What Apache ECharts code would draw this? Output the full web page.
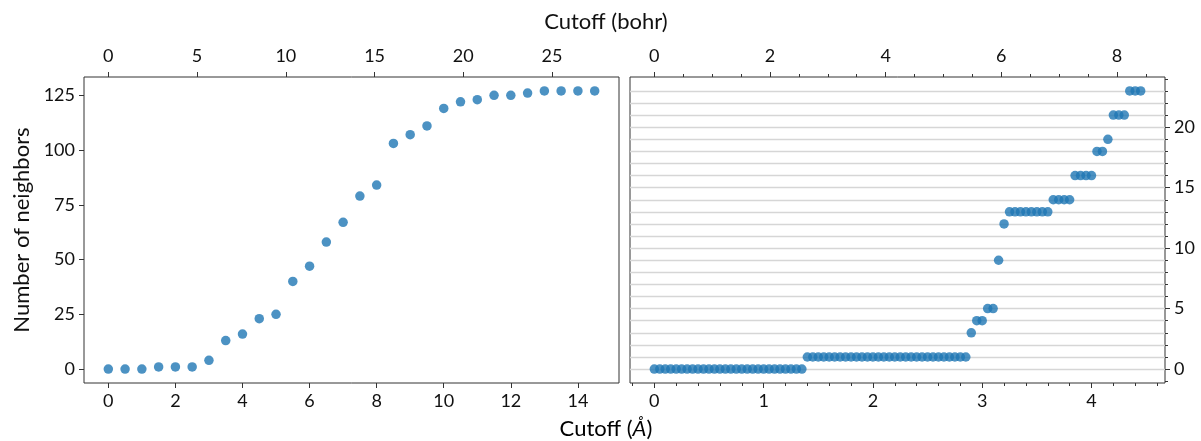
<!DOCTYPE html>
<html>
<head>
<meta charset="utf-8">
<script src="https://cdn.jsdelivr.net/npm/echarts@6/dist/echarts.min.js"></script>
<style>
html,body{margin:0;padding:0;background:#fff;}
#c{width:1201px;height:441px;}
</style>
</head>
<body>
<div id="c"></div>
<script>
// ---- data ----
const leftX = [0,0.5,1,1.5,2,2.5,3,3.5,4,4.5,5,5.5,6,6.5,7,7.5,8,8.5,9,9.5,10,10.5,11,11.5,12,12.5,13,13.5,14,14.5];
const leftY = [0,0,0,1,1,1,4,13,16,23,25,40,47,58,67,79,84,103,107,111,119,122,123,125,125,126,127,127,127,127];

const rightX = [0,0.05,0.1,0.15,0.2,0.25,0.3,0.35,0.4,0.45,0.5,0.55,0.6,0.65,0.7,0.75,0.8,0.85,0.9,0.95,
  1.0,1.05,1.1,1.15,1.2,1.25,1.3,1.35,1.4,1.45,1.5,1.55,1.6,1.65,1.7,1.75,1.8,1.85,1.9,1.95,
  2.0,2.05,2.1,2.15,2.2,2.25,2.3,2.35,2.4,2.45,2.5,2.55,2.6,2.65,2.7,2.75,2.8,2.85,2.9,2.95,
  3.0,3.05,3.1,3.15,3.2,3.25,3.3,3.35,3.4,3.45,3.5,3.55,3.6,3.65,3.7,3.75,3.8,3.85,3.9,3.95,
  4.0,4.05,4.1,4.15,4.2,4.25,4.3,4.35,4.4,4.45];
const rightY = [0,0,0,0,0,0,0,0,0,0,0,0,0,0,0,0,0,0,0,0,
  0,0,0,0,0,0,0,0,1,1,1,1,1,1,1,1,1,1,1,1,
  1,1,1,1,1,1,1,1,1,1,1,1,1,1,1,1,1,1,3,4,
  4,5,5,9,12,13,13,13,13,13,13,13,13,14,14,14,14,16,16,16,
  16,18,18,19,21,21,21,23,23,23];

// ---- tick labels ----
const leftXTicks = [0,2,4,6,8,10,12,14];
const leftBohrTicks = [0,5,10,15,20,25];
const leftYTicks = [0,25,50,75,100,125];
const rightXTicks = [0,1,2,3,4];
const rightXMinor = [-0.2,0.2,0.4,0.6,0.8,1.2,1.4,1.6,1.8,2.2,2.4,2.6,2.8,3.2,3.4,3.6,3.8,4.2,4.4,4.6];
const rightBohrTicks = [0,2,4,6,8];
const rightBohrMinor = [0.5,1,1.5,2.5,3,3.5,4.5,5,5.5,6.5,7,7.5,8.5];
const rightYTicks = [0,5,10,15,20];
const rightYMinor = [-1,1,2,3,4,6,7,8,9,11,12,13,14,16,17,18,19,21,22,23,24];
const rightYGrid = [0,1,2,3,4,5,6,7,8,9,10,11,12,13,14,15,16,17,18,19,20,21,22,23];

const BOHR = 1.8897259886; // bohr per angstrom

// axis ranges (matplotlib 5% margins)
const LX = [-0.725, 15.225], LY = [-6.35, 133.35];
const RX = [-0.2225, 4.6725], RY = [-1.15, 24.15];

const FONT = 'Lato';
const FS = 18;
const TFS = 22;
const TXT = '#111';
const SPINE = '#333';

function ax(grid, range, pos, ticks, opts) {
  opts = opts || {};
  return {
    type: 'value', gridIndex: grid, position: pos, min: range[0], max: range[1],
    axisLine: {show: false, onZero: false},
    axisTick: {show: true, length: opts.len || 5, customValues: ticks, lineStyle: {color: SPINE, width: 1}},
    axisLabel: {show: !opts.noLabel, customValues: ticks, margin: pos === 'top' ? 12 : 9, fontFamily: FONT, fontSize: FS, color: TXT},
    splitLine: {show: false}
  };
}

const series = [
  {type: 'scatter', xAxisIndex: 0, yAxisIndex: 0, data: leftX.map((x,i)=>[x,leftY[i]]),
   symbolSize: 9.5, itemStyle: {color: '#1f77b4', opacity: 0.8}, z: 5},
  {type: 'scatter', xAxisIndex: 2, yAxisIndex: 1, data: rightX.map((x,i)=>[x,rightY[i]]),
   symbolSize: 9.5, itemStyle: {color: '#1f77b4', opacity: 0.8}, z: 5}
];

const option = {
  animation: false,
  backgroundColor: '#fff',
  grid: [
    {left: 84, right: 582, top: 77, bottom: 58, show: true, borderColor: SPINE, borderWidth: 1, backgroundColor: 'transparent'},
    {left: 630, right: 36, top: 77, bottom: 58, show: true, borderColor: SPINE, borderWidth: 1, backgroundColor: 'transparent'}
  ],
  xAxis: [
    ax(0, LX, 'bottom', leftXTicks),
    ax(0, [LX[0]*BOHR, LX[1]*BOHR], 'top', leftBohrTicks),
    ax(1, RX, 'bottom', rightXTicks),
    ax(1, RX, 'bottom', rightXMinor, {len: 3, noLabel: true}),
    ax(1, [RX[0]*BOHR, RX[1]*BOHR], 'top', rightBohrTicks),
    ax(1, [RX[0]*BOHR, RX[1]*BOHR], 'top', rightBohrMinor, {len: 3, noLabel: true})
  ],
  yAxis: [
    ax(0, LY, 'left', leftYTicks),
    ax(1, RY, 'right', rightYTicks),
    ax(1, RY, 'right', rightYMinor, {len: 3, noLabel: true}),
    {type: 'value', gridIndex: 1, position: 'right', min: RY[0], max: RY[1],
     axisLine: {show: false, onZero: false}, axisTick: {show: false, customValues: rightYGrid},
     axisLabel: {show: false, customValues: rightYGrid},
     splitLine: {show: true, lineStyle: {color: '#d6d6d6', width: 1.3}}, z: 0}
  ],
  series: series,
  graphic: [
    {type: 'text', x: 606, y: 22, style: {text: 'Cutoff (bohr)', font: TFS + 'px ' + FONT, fill: TXT, textAlign: 'center', textVerticalAlign: 'middle'}},
    {type: 'text', x: 606, y: 429, style: {text: '{n|Cutoff (}{i|Å}{n|)}', textAlign: 'center', textVerticalAlign: 'middle',
      rich: {n: {fontFamily: FONT, fontSize: TFS, color: TXT}, i: {fontFamily: FONT, fontSize: TFS, fontStyle: 'italic', color: TXT}}}},
    {type: 'text', x: 22, y: 230, rotation: Math.PI/2, style: {text: 'Number of neighbors', font: TFS + 'px ' + FONT, fill: TXT, textAlign: 'center', textVerticalAlign: 'middle'}}
  ]
};

const chart = echarts.init(document.getElementById('c'), null, {renderer: 'canvas'});
chart.setOption(option);
</script>
</body>
</html>
